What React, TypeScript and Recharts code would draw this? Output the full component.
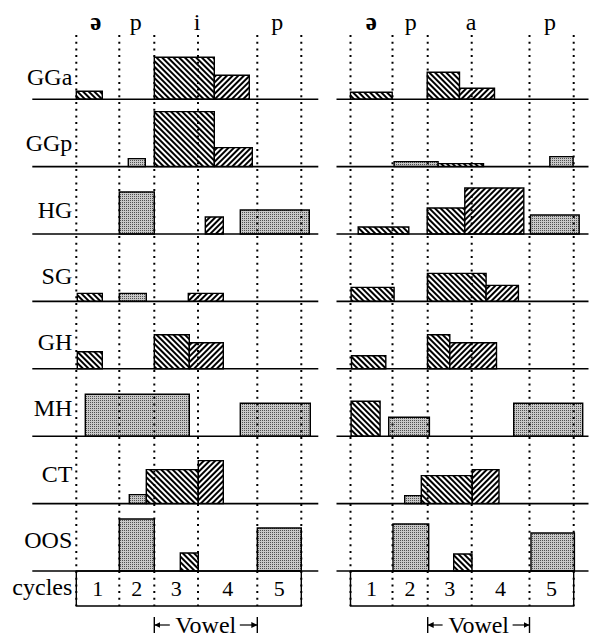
import React from 'react';
import { ComposedChart, XAxis, YAxis, ReferenceLine, ReferenceArea, ReferenceDot } from 'recharts';

type Pat = 'back' | 'fwd' | 'dot';
// [start, end, amplitude, fill pattern]
type Seg = [number, number, number, Pat];

const ROWS = ['GGa', 'GGp', 'HG', 'SG', 'GH', 'MH', 'CT', 'OOS'];
const CYCLES = ['1', '2', '3', '4', '5'];

// cycle boundaries, time units from onset of cycle 1
const LEFT_BOUNDS = [0, 43, 78, 121.7, 181, 225];
const RIGHT_BOUNDS = [0, 42, 77.2, 121.2, 179, 223.2];

const LEFT_PHONES = [
  { t: 19.5, s: 'ə' },
  { t: 59.5, s: 'p' },
  { t: 120.7, s: 'i' },
  { t: 201, s: 'p' },
];
const RIGHT_PHONES = [
  { t: 20.7, s: 'ə' },
  { t: 60.2, s: 'p' },
  { t: 120.7, s: 'a' },
  { t: 199.5, s: 'p' },
];

// left panel  /əpip/
const L_GGA: Seg[] = [[0, 26, 8, 'back'], [78, 138, 42, 'back'], [138, 173, 24, 'fwd']];
const L_GGP: Seg[] = [[52, 69, 8, 'dot'], [78, 138, 55, 'back'], [138, 176, 19, 'fwd']];
const L_HG: Seg[] = [[43, 78, 42, 'dot'], [129, 147, 17, 'fwd'], [164, 233, 24, 'dot']];
const L_SG: Seg[] = [[1, 26, 8, 'back'], [43, 70, 8, 'dot'], [112, 147, 8, 'fwd']];
const L_GH: Seg[] = [[1, 26, 17, 'back'], [78, 113, 34, 'back'], [113, 147, 26, 'fwd']];
const L_MH: Seg[] = [[9, 113, 42, 'dot'], [164, 234, 33, 'dot']];
const L_CT: Seg[] = [[53, 70, 9, 'dot'], [70, 122, 34, 'back'], [122, 147, 43, 'fwd']];
const L_OOS: Seg[] = [[43, 78, 52, 'dot'], [104, 122, 18, 'back'], [181, 225, 43, 'dot']];

// right panel  /əpap/
const R_GGA: Seg[] = [[0, 41.7, 7, 'back'], [76.7, 109, 27, 'back'], [109, 144, 11, 'fwd']];
const R_GGP: Seg[] = [[43.6, 87.6, 5, 'dot'], [87.6, 133, 3, 'back'], [199.3, 222.6, 10, 'dot']];
const R_HG: Seg[] = [[7.7, 58.3, 7, 'back'], [76.7, 114.3, 26, 'back'], [114.3, 173.3, 46, 'fwd'], [180, 228.7, 19, 'dot']];
const R_SG: Seg[] = [[0.6, 43.6, 14, 'back'], [76.9, 135.6, 28, 'back'], [135.6, 167.9, 16, 'fwd']];
const R_GH: Seg[] = [[1, 35.3, 13, 'back'], [77, 99.3, 34, 'back'], [99.3, 146, 26, 'fwd']];
const R_MH: Seg[] = [[0.6, 29.6, 35, 'back'], [38.2, 78.9, 19, 'dot'], [163.2, 232.2, 33, 'dot']];
const R_CT: Seg[] = [[54.2, 70.8, 8, 'dot'], [70.8, 121.8, 28, 'back'], [121.8, 148.5, 34, 'fwd']];
const R_OOS: Seg[] = [[42.5, 78.2, 47, 'dot'], [103.2, 121.5, 17, 'back'], [180.5, 223.9, 38, 'dot']];

const LEFT_ROWS = [L_GGA, L_GGP, L_HG, L_SG, L_GH, L_MH, L_CT, L_OOS];
const RIGHT_ROWS = [R_GGA, R_GGP, R_HG, R_SG, R_GH, R_MH, R_CT, R_OOS];

const FONT = "'Liberation Serif', 'DejaVu Serif', serif";
const H = 638;
const TOP = 35;
const Y_MAX = 571;
const BOX_H = 35;
const ROW_STEP = 67.4;
const VOWEL_Y = -19;

const FILL: Record<Pat, string> = {
  back: 'url(#hatchBack)',
  fwd: 'url(#hatchFwd)',
  dot: 'url(#stipple)',
};

const rowBase = (k: number) => BOX_H + (ROWS.length - 1 - k) * ROW_STEP;
const labelPos = (k: number) => rowBase(k) + 22.5 + 1.25 * k;

// label renderer: serif text centred in the element's viewBox
const centerText = (text: string, size: number) => (props: any) => {
  const vb = props.viewBox || {};
  return (
    <text
      x={(vb.x ?? 0) + (vb.width ?? 0) / 2}
      y={(vb.y ?? 0) + (vb.height ?? 0) / 2}
      dy="0.35em"
      textAnchor="middle"
      fontSize={size}
      fontFamily={FONT}
      fill="#000"
    >
      {text}
    </text>
  );
};

function Patterns() {
  return (
    <svg width={0} height={0} style={{ position: 'absolute' }}>
      <defs>
        <pattern id="hatchBack" patternUnits="userSpaceOnUse" width={4} height={4} patternTransform="rotate(-45)">
          <rect width={4} height={4} fill="#fff" />
          <line x1={2} y1={0} x2={2} y2={4} stroke="#000" strokeWidth={2} />
        </pattern>
        <pattern id="hatchFwd" patternUnits="userSpaceOnUse" width={4} height={4} patternTransform="rotate(45)">
          <rect width={4} height={4} fill="#fff" />
          <line x1={2} y1={0} x2={2} y2={4} stroke="#000" strokeWidth={2} />
        </pattern>
        <pattern id="stipple" patternUnits="userSpaceOnUse" width={2} height={2}>
          <rect width={2} height={2} fill="#c8c8c8" />
          <rect width={1} height={1} fill="#505050" />
        </pattern>
        <marker id="arrow" viewBox="0 0 6 6" refX={6} refY={3} markerWidth={6} markerHeight={6}
          markerUnits="userSpaceOnUse" orient="auto-start-reverse">
          <path d="M0,0 L6,3 L0,6 z" fill="#000" />
        </marker>
      </defs>
    </svg>
  );
}

interface PanelProps {
  width: number;
  originX: number;
  xMax: number;
  baseFrom: number;
  bounds: number[];
  phones: { t: number; s: string }[];
  rows: Seg[][];
  showLabels: boolean;
}

function Panel({ width, originX, xMax, baseFrom, bounds, phones, rows, showLabels }: PanelProps) {
  const yTicks = [...ROWS.map((_, k) => labelPos(k)), BOX_H * 0.57];
  const yNames = [...ROWS, 'cycles'];
  const vs = bounds[2];
  const ve = bounds[4];
  const mid = (vs + ve) / 2;
  // two points spanning the frame so both axes get a domain
  const frame = [{ t: 0, v: 0 }, { t: xMax, v: Y_MAX }];

  const PhoneTick = (p: any) => {
    const ph = phones.find((q) => Math.abs(q.t - p.payload.value) < 0.01);
    if (!ph) return null;
    const schwa = ph.s === 'ə';
    return (
      <text x={p.x} y={p.y} textAnchor="middle" fontFamily={FONT} fontSize={schwa ? 25 : 24}
        fontWeight={schwa ? 'bold' : 'normal'} fill="#000">
        {ph.s}
      </text>
    );
  };

  return (
    <ComposedChart
      width={width}
      height={H}
      data={frame}
      margin={{ top: 0, right: width - originX - xMax, bottom: H - TOP - Y_MAX, left: showLabels ? 0 : originX }}
    >
      <XAxis
        dataKey="t"
        type="number"
        orientation="top"
        domain={[0, xMax]}
        allowDataOverflow
        height={TOP}
        ticks={phones.map((p) => p.t)}
        interval={0}
        tick={PhoneTick}
        axisLine={false}
        tickLine={false}
        tickSize={0}
        tickMargin={5}
      />
      <YAxis
        dataKey="v"
        type="number"
        domain={[0, Y_MAX]}
        allowDataOverflow
        hide={!showLabels}
        width={originX}
        ticks={yTicks}
        interval={0}
        tickFormatter={(_v: number, i: number) => yNames[i]}
        tick={{ fontSize: 24, fill: '#000', fontFamily: FONT }}
        axisLine={false}
        tickLine={false}
        tickSize={0}
        tickMargin={4}
      />

      {bounds.map((b, i) => (
        <ReferenceLine key={`v${i}`} x={b} stroke="#000" strokeWidth={2} strokeDasharray="2 4.7" ifOverflow="visible" />
      ))}

      {rows.map((segs, k) =>
        segs.map(([x1, x2, h, pat], i) => (
          <ReferenceArea
            key={`a${k}-${i}`}
            x1={x1}
            x2={x2}
            y1={rowBase(k)}
            y2={rowBase(k) + h}
            fill={FILL[pat]}
            fillOpacity={1}
            stroke="#000"
            strokeWidth={1.4}
            ifOverflow="visible"
          />
        ))
      )}

      {ROWS.map((_, k) => (
        <ReferenceLine
          key={`b${k}`}
          segment={[{ x: baseFrom, y: rowBase(k) }, { x: xMax, y: rowBase(k) }]}
          stroke="#000"
          strokeWidth={1.6}
          ifOverflow="visible"
        />
      ))}

      {CYCLES.map((c, i) => (
        <ReferenceArea
          key={`c${i}`}
          x1={bounds[i]}
          x2={bounds[i + 1]}
          y1={0}
          y2={BOX_H}
          fill="none"
          stroke="none"
          ifOverflow="visible"
          label={centerText(c, 22)}
        />
      ))}
      <ReferenceArea x1={bounds[0]} x2={bounds[5]} y1={0} y2={BOX_H} fill="none" fillOpacity={0}
        stroke="#000" strokeWidth={1.4} ifOverflow="visible" />

      <ReferenceLine segment={[{ x: vs, y: VOWEL_Y }, { x: mid - 36, y: VOWEL_Y }]} stroke="#000" strokeWidth={1.2}
        markerStart="url(#arrow)" ifOverflow="visible" />
      <ReferenceLine segment={[{ x: mid + 34, y: VOWEL_Y }, { x: ve, y: VOWEL_Y }]} stroke="#000" strokeWidth={1.2}
        markerEnd="url(#arrow)" ifOverflow="visible" />
      <ReferenceLine segment={[{ x: vs, y: VOWEL_Y - 8 }, { x: vs, y: VOWEL_Y + 8 }]} stroke="#000" strokeWidth={1.4} ifOverflow="visible" />
      <ReferenceLine segment={[{ x: ve, y: VOWEL_Y - 8 }, { x: ve, y: VOWEL_Y + 8 }]} stroke="#000" strokeWidth={1.4} ifOverflow="visible" />
      <ReferenceDot x={mid} y={VOWEL_Y} r={0} fill="none" stroke="none" ifOverflow="visible"
        label={centerText('Vowel', 24)} />
    </ComposedChart>
  );
}

export default function App() {
  return (
    <div style={{ position: 'absolute', left: 0, top: 0, width: 592, height: H, background: '#fff', display: 'flex', fontFamily: FONT }}>
      <Patterns />
      <Panel width={320} originX={76.3} xMax={242} baseFrom={-44} bounds={LEFT_BOUNDS}
        phones={LEFT_PHONES} rows={LEFT_ROWS} showLabels />
      <Panel width={272} originX={30.5} xMax={238} baseFrom={-14} bounds={RIGHT_BOUNDS}
        phones={RIGHT_PHONES} rows={RIGHT_ROWS} showLabels={false} />
    </div>
  );
}
